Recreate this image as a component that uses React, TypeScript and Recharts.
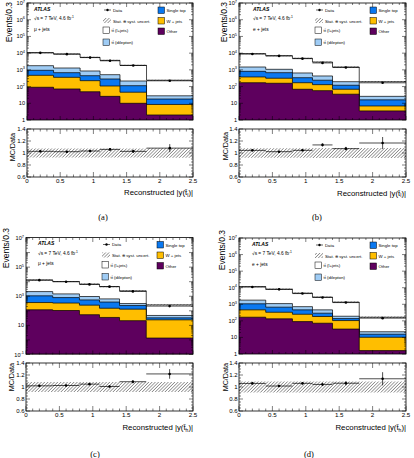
import { Area, ComposedChart, ErrorBar, Scatter, XAxis, YAxis } from 'recharts';

const FONT = '"Liberation Sans", Arial, Helvetica, sans-serif';
const SERIF = '"Liberation Serif", "DejaVu Serif", serif';

const BIN_EDGES = [0, 0.4, 0.8, 1.1, 1.4, 1.8, 2.5];
const X_TICKS = Array.from({ length: 26 }, (_, i) => i / 10);
const R_TICKS = Array.from({ length: 17 }, (_, i) => (60 + i * 5) / 100);

const COLORS = {
	other: '#5e005e',
	wjets: '#ffbe00',
	stop: '#0a78f0',
	dilep: '#9fccf5',
	ljets: '#ffffff'
};

// (a) mu + jets, leptonic top
const dataA = [10410, 8710, 5420, 3490, 1820, 222];
const ljetsA = [8920, 7610, 4745, 3185, 1655, 212];
const dilepA = [840, 610, 408, 230, 102, 10];
const stopA = [470, 323, 222, 177, 67, 9.5];
const wjetsA = [379, 285, 176, 82, 36, 6.5];
const otherA = [91, 72, 49, 26, 10, 2];
const ratioErrA = [0.012, 0.013, 0.016, 0.02, 0.027, 0.067];
const uncA = [0.075, 0.075, 0.075, 0.075, 0.075, 0.08];

// (b) e + jets, leptonic top
const dataB = [8910, 6850, 4690, 2600, 1380, 168];
const ljetsB = [7820, 5920, 4250, 2520, 1284, 170];
const dilepB = [665, 400, 310, 190, 76, 10];
const stopB = [440, 365, 170, 110, 51, 9.1];
const wjetsB = [205, 157, 101, 73, 34, 3.4];
const otherB = [170, 158, 69, 57, 35, 3.5];
const ratioErrB = [0.013, 0.014, 0.017, 0.025, 0.03, 0.1];
const uncB = [0.08, 0.08, 0.08, 0.083, 0.083, 0.083];

// (c) mu + jets, hadronic top
const dataC = [12750, 9950, 6490, 4560, 2150, 211];
const ljetsC = [10910, 8750, 5840, 3940, 2025, 209];
const dilepC = [1020, 640, 400, 260, 85, 15];
const stopC = [700, 470, 315, 250, 100, 9];
const wjetsC = [253, 235, 191, 115, 109, 22.6];
const otherC = [117, 105, 54, 35, 21, 1.35];
const ratioErrC = [0.012, 0.012, 0.016, 0.018, 0.028, 0.08];
const uncC = [0.084, 0.084, 0.084, 0.084, 0.084, 0.084];

// (d) e + jets, hadronic top
const dataD = [11040, 7970, 4430, 2590, 1270, 146];
const ljetsD = [9920, 7000, 3980, 2240, 1160, 144];
const dilepD = [710, 430, 260, 170, 53, 6.4];
const stopD = [610, 340, 210, 107, 33, 5.4];
const wjetsD = [294, 198, 160, 111, 72, 8.6];
const otherD = [166, 132, 90, 72, 32, 1.6];
const ratioErrD = [0.013, 0.015, 0.02, 0.025, 0.035, 0.11];
const uncD = [0.09, 0.09, 0.09, 0.09, 0.09, 0.09];

type PanelSpec = {
	id: string;
	caption: string;
	channel: string;
	sub: string;
	left: number;
	width: number;
	mainTop: number;
	mainH: number;
	ratioTop: number;
	ratioH: number;
	minExp: number;
	maxExp: number;
	labelExps: number[];
	data: number[];
	ljets: number[];
	dilep: number[];
	stop: number[];
	wjets: number[];
	other: number[];
	ratioErr: number[];
	unc: number[];
	atlasDx: number;
	yTitleX: number;
	yTitleTop: number;
	rTitleX: number;
	rTitleTop: number;
	xTitleBase: number;
	captionX: number;
	captionY: number;
};

const PANELS: PanelSpec[] = [
	{
		id: 'a', caption: '(a)', channel: 'μ + jets', sub: 'l',
		left: 27, width: 166, mainTop: 3, mainH: 117, ratioTop: 129, ratioH: 48,
		minExp: 0, maxExp: 7, labelExps: [0, 1, 2, 3, 4, 5, 6, 7],
		data: dataA, ljets: ljetsA, dilep: dilepA, stop: stopA, wjets: wjetsA, other: otherA,
		ratioErr: ratioErrA, unc: uncA,
		atlasDx: 7, yTitleX: 12, yTitleTop: 2, rTitleX: 15, rTitleTop: 133, xTitleBase: 195,
		captionX: 103, captionY: 220
	},
	{
		id: 'b', caption: '(b)', channel: 'e + jets', sub: 'l',
		left: 239, width: 167, mainTop: 3, mainH: 117, ratioTop: 129, ratioH: 48,
		minExp: 0, maxExp: 7, labelExps: [0, 1, 2, 3, 4, 5, 6, 7],
		data: dataB, ljets: ljetsB, dilep: dilepB, stop: stopB, wjets: wjetsB, other: otherB,
		ratioErr: ratioErrB, unc: uncB,
		atlasDx: 14, yTitleX: 227, yTitleTop: 2, rTitleX: 228, rTitleTop: 132, xTitleBase: 195.5,
		captionX: 317, captionY: 220
	},
	{
		id: 'c', caption: '(c)', channel: 'μ + jets', sub: 'h',
		left: 26, width: 167, mainTop: 237.5, mainH: 116.5, ratioTop: 363, ratioH: 48,
		minExp: -1, maxExp: 7, labelExps: [-1, 1, 3, 5, 7],
		data: dataC, ljets: ljetsC, dilep: dilepC, stop: stopC, wjets: wjetsC, other: otherC,
		ratioErr: ratioErrC, unc: uncC,
		atlasDx: 12, yTitleX: 9, yTitleTop: 228, rTitleX: 14, rTitleTop: 363, xTitleBase: 430,
		captionX: 95, captionY: 457
	},
	{
		id: 'd', caption: '(d)', channel: 'e + jets', sub: 'h',
		left: 239, width: 167, mainTop: 238, mainH: 116, ratioTop: 363, ratioH: 48,
		minExp: 0, maxExp: 7, labelExps: [0, 1, 2, 3, 4, 5, 6, 7],
		data: dataD, ljets: ljetsD, dilep: dilepD, stop: stopD, wjets: wjetsD, other: otherD,
		ratioErr: ratioErrD, unc: uncD,
		atlasDx: 13, yTitleX: 225, yTitleTop: 230, rTitleX: 228, rTitleTop: 363, xTitleBase: 430,
		captionX: 309, captionY: 457
	}
];

const AXW = 26;
const PT = 7;
const PR = 6;

function logTicks(minExp: number, maxExp: number) {
	const out: number[] = [];
	for (let e = minExp; e <= maxExp; e++) {
		out.push(10 ** e);
		if (e < maxExp) {
			for (let m = 2; m <= 9; m++) out.push(m * 10 ** e);
		}
	}
	return out;
}

function buildRows(p: PanelSpec) {
	return BIN_EDGES.map((edge, i) => {
		const k = Math.min(i, BIN_EDGES.length - 2);
		const other = p.other[k];
		const wjets = other + p.wjets[k];
		const stop = wjets + p.stop[k];
		const dilep = stop + p.dilep[k];
		const total = dilep + p.ljets[k];
		const rel = p.unc[k];
		return {
			x: edge,
			other,
			wjets,
			stop,
			dilep,
			total,
			band: [total * (1 - rel), total * (1 + rel)],
			rband: [1 - rel, 1 + rel]
		};
	});
}

function buildPoints(p: PanelSpec) {
	return p.data.map((n, k) => {
		const lo = BIN_EDGES[k];
		const hi = BIN_EDGES[k + 1];
		const total = p.ljets[k] + p.dilep[k] + p.stop[k] + p.wjets[k] + p.other[k];
		return { x: (lo + hi) / 2, y: n, ratio: total / n, ex: (hi - lo) / 2, ey: p.ratioErr[k] };
	});
}

function Dot(props: any) {
	const { cx, cy } = props;
	if (cx == null || cy == null) return null;
	return <circle cx={cx} cy={cy} r={1.3} fill="#000" />;
}

function makeLogTick(plotW: number, labelExps: number[]) {
	return (props: any) => {
		const { x, y, payload } = props;
		const e = Math.log10(payload.value);
		const exp = Math.round(e);
		const major = Math.abs(e - exp) < 1e-6;
		const len = major ? 4 : 2;
		let label: any = null;
		if (major && labelExps.includes(exp)) {
			label = (
				<text x={x - 2} y={y + 2} textAnchor="end" fontSize={5.6} fontFamily={FONT} fill="#000">
					{exp === 0 ? '1' : '10'}
					{exp !== 0 && exp !== 1 ? (
						<tspan dy={-2.4} fontSize={3.9}>
							{exp < 0 ? `-${-exp}` : exp}
						</tspan>
					) : null}
				</text>
			);
		}
		return (
			<g>
				<line x1={x} x2={x + len} y1={y} y2={y} stroke="#000" strokeWidth={0.5} />
				<line x1={x + plotW} x2={x + plotW - len} y1={y} y2={y} stroke="#000" strokeWidth={0.5} />
				{label}
			</g>
		);
	};
}

function makeRatioYTick(plotW: number) {
	return (props: any) => {
		const { x, y, payload } = props;
		const v = payload.value as number;
		const major = Math.round(v * 100) % 20 === 0;
		const len = major ? 4 : 2;
		return (
			<g>
				<line x1={x} x2={x + len} y1={y} y2={y} stroke="#000" strokeWidth={0.5} />
				<line x1={x + plotW} x2={x + plotW - len} y1={y} y2={y} stroke="#000" strokeWidth={0.5} />
				{major ? (
					<text x={x - 1.5} y={y + 2.1} textAnchor="end" fontSize={6} fontFamily={FONT} fill="#000">
						{String(Number(v.toFixed(2)))}
					</text>
				) : null}
			</g>
		);
	};
}

function makeXTick(plotH: number, showLabels: boolean, majorLen: number) {
	return (props: any) => {
		const { x, y, payload } = props;
		const v = payload.value as number;
		const major = Math.abs(v * 2 - Math.round(v * 2)) < 1e-6;
		const len = major ? majorLen : majorLen / 2;
		return (
			<g>
				<line x1={x} x2={x} y1={y} y2={y - len} stroke="#000" strokeWidth={0.5} />
				<line x1={x} x2={x} y1={y - plotH} y2={y - plotH + len} stroke="#000" strokeWidth={0.5} />
				{showLabels && major ? (
					<text x={x} y={y + 5.6} textAnchor="middle" fontSize={6.2} fontFamily={FONT} fill="#000">
						{String(v)}
					</text>
				) : null}
			</g>
		);
	};
}

function HatchDef({ id }: { id: string }) {
	return (
		<pattern id={id} width={2.3} height={2.3} patternUnits="userSpaceOnUse" patternTransform="rotate(45)">
			<line x1={0} y1={0} x2={0} y2={2.3} stroke="#1a1a1a" strokeWidth={0.8} />
		</pattern>
	);
}

function Panel({ p }: { p: PanelSpec }) {
	const rows = buildRows(p);
	const pts = buildPoints(p);
	const mainXH = 3;
	const ratioXH = 12;
	const ratioPT = 5;
	const stack: Array<[string, string]> = [
		['total', COLORS.ljets],
		['dilep', COLORS.dilep],
		['stop', COLORS.stop],
		['wjets', COLORS.wjets],
		['other', COLORS.other]
	];

	return (
		<>
			<div style={{ position: 'absolute', left: p.left - AXW, top: p.mainTop - PT }}>
				<ComposedChart
					width={AXW + p.width + PR}
					height={PT + p.mainH + mainXH}
					data={rows}
					margin={{ top: PT, right: PR, bottom: 0, left: 0 }}
				>
					<defs>
						<HatchDef id={`hm-${p.id}`} />
					</defs>
					{stack.map(([key, color]) => (
						<Area
							key={key}
							dataKey={key}
							type="stepAfter"
							fill={color}
							fillOpacity={1}
							stroke="#000"
							strokeWidth={0.7}
							dot={false}
							activeDot={false}
							isAnimationActive={false}
						/>
					))}
					<Area
						dataKey="band"
						type="stepAfter"
						fill={`url(#hm-${p.id})`}
						fillOpacity={1}
						stroke="none"
						dot={false}
						activeDot={false}
						isAnimationActive={false}
					/>
					<Scatter data={pts} dataKey="y" shape={Dot} isAnimationActive={false}>
						<ErrorBar dataKey="ex" direction="x" width={0} stroke="#000" strokeWidth={0.7} />
					</Scatter>
					<XAxis
						dataKey="x"
						type="number"
						domain={[0, 2.5]}
						ticks={X_TICKS}
						interval={0}
						allowDataOverflow
						axisLine={false}
						tickLine={false}
						tickSize={0}
						tickMargin={0}
						height={mainXH}
						tick={makeXTick(p.mainH, false, 4)}
					/>
					<YAxis
						type="number"
						scale="log"
						domain={[10 ** p.minExp, 10 ** p.maxExp]}
						ticks={logTicks(p.minExp, p.maxExp)}
						interval={0}
						allowDataOverflow
						axisLine={false}
						tickLine={false}
						tickSize={0}
						tickMargin={0}
						width={AXW}
						tick={makeLogTick(p.width, p.labelExps)}
					/>
				</ComposedChart>
			</div>
			<div style={{ position: 'absolute', left: p.left - AXW, top: p.ratioTop - ratioPT }}>
				<ComposedChart
					width={AXW + p.width + PR}
					height={ratioPT + p.ratioH + ratioXH}
					data={rows}
					margin={{ top: ratioPT, right: PR, bottom: 0, left: 0 }}
				>
					<defs>
						<HatchDef id={`hr-${p.id}`} />
					</defs>
					<Area
						dataKey="rband"
						type="stepAfter"
						fill={`url(#hr-${p.id})`}
						fillOpacity={1}
						stroke="none"
						dot={false}
						activeDot={false}
						isAnimationActive={false}
					/>
					<Scatter data={pts} dataKey="ratio" shape={Dot} isAnimationActive={false}>
						<ErrorBar dataKey="ex" direction="x" width={0} stroke="#000" strokeWidth={0.7} />
						<ErrorBar dataKey="ey" direction="y" width={0} stroke="#000" strokeWidth={0.7} />
					</Scatter>
					<XAxis
						dataKey="x"
						type="number"
						domain={[0, 2.5]}
						ticks={X_TICKS}
						interval={0}
						allowDataOverflow
						axisLine={false}
						tickLine={false}
						tickSize={0}
						tickMargin={0}
						height={ratioXH}
						tick={makeXTick(p.ratioH, true, 5)}
					/>
					<YAxis
						type="number"
						domain={[0.6, 1.4]}
						ticks={R_TICKS}
						interval={0}
						allowDataOverflow
						axisLine={false}
						tickLine={false}
						tickSize={0}
						tickMargin={0}
						width={AXW}
						tick={makeRatioYTick(p.width)}
					/>
				</ComposedChart>
			</div>
		</>
	);
}

function PanelText({ p }: { p: PanelSpec }) {
	const L = p.left;
	const T = p.mainTop;
	const ax = L + p.atlasDx;
	const lx = L + 76;
	const rx = L + 131;
	const legendBox = (y: number, fill: string, label: string, x: number) => (
		<g>
			<rect x={x} y={y} width={6.5} height={6.5} fill={fill} stroke="#000" strokeWidth={0.5} />
			<text x={x + 8.5} y={y + 5} fontSize={4.3}>
				{label}
			</text>
		</g>
	);

	return (
		<g fontFamily={FONT} fill="#000">
			<rect x={L} y={p.mainTop} width={p.width} height={p.mainH} fill="none" stroke="#000" strokeWidth={0.8} />
			<rect x={L} y={p.ratioTop} width={p.width} height={p.ratioH} fill="none" stroke="#000" strokeWidth={0.8} />

			<text x={ax} y={T + 7.5} fontSize={5} fontWeight="bold" fontStyle="italic">
				ATLAS
			</text>
			<text x={ax} y={T + 17} fontSize={4.8}>
				√s = 7 TeV, 4.6 fb
				<tspan dy={-1.8} fontSize={3.4}>
					-1
				</tspan>
			</text>
			<text x={ax} y={T + 27.5} fontSize={4.8}>
				{p.channel}
			</text>

			<line x1={lx + 1} x2={lx + 8} y1={T + 7} y2={T + 7} stroke="#000" strokeWidth={0.6} />
			<circle cx={lx + 4.5} cy={T + 7} r={1.2} fill="#000" />
			<text x={lx + 10} y={T + 8.6} fontSize={4.3}>
				Data
			</text>
			<rect x={lx} y={T + 15} width={8} height={5} fill="url(#legend-hatch)" />
			<text x={lx + 10} y={T + 19.5} fontSize={4.3}>
				Stat. ⊕ syst. uncert.
			</text>
			{legendBox(T + 24, COLORS.ljets, 'tt̄ (l+jets)', lx)}
			{legendBox(T + 36, COLORS.dilep, 'tt̄ (dilepton)', lx)}
			{legendBox(T + 4, COLORS.stop, 'Single top', rx)}
			{legendBox(T + 14.5, COLORS.wjets, 'W + jets', rx)}
			{legendBox(T + 25, COLORS.other, 'Other', rx)}

			<text transform={`translate(${p.yTitleX},${p.yTitleTop}) rotate(-90)`} textAnchor="end" fontSize={8.5}>
				Events/0.3
			</text>
			<text transform={`translate(${p.rTitleX},${p.rTitleTop}) rotate(-90)`} textAnchor="end" fontSize={7.2}>
				MC/Data
			</text>
			<text x={L + p.width} y={p.xTitleBase} textAnchor="end" fontSize={7.8}>
				Reconstructed |y(t̄
				<tspan dy={1.8} fontSize={5}>
					{p.sub}
				</tspan>
				<tspan dy={-1.8}>)|</tspan>
			</text>
			<text x={p.captionX} y={p.captionY} textAnchor="middle" fontSize={8.5} fontFamily={SERIF}>
				{p.caption}
			</text>
		</g>
	);
}

export default function App() {
	return (
		<div
			style={{
				position: 'absolute',
				left: 0,
				top: 0,
				width: 414,
				height: 458,
				background: '#fff',
				overflow: 'hidden'
			}}
		>
			{PANELS.map((p) => (
				<Panel key={p.id} p={p} />
			))}
			<svg
				width={414}
				height={458}
				style={{ position: 'absolute', left: 0, top: 0, pointerEvents: 'none' }}
			>
				<defs>
					<HatchDef id="legend-hatch" />
				</defs>
				{PANELS.map((p) => (
					<PanelText key={p.id} p={p} />
				))}
			</svg>
		</div>
	);
}
